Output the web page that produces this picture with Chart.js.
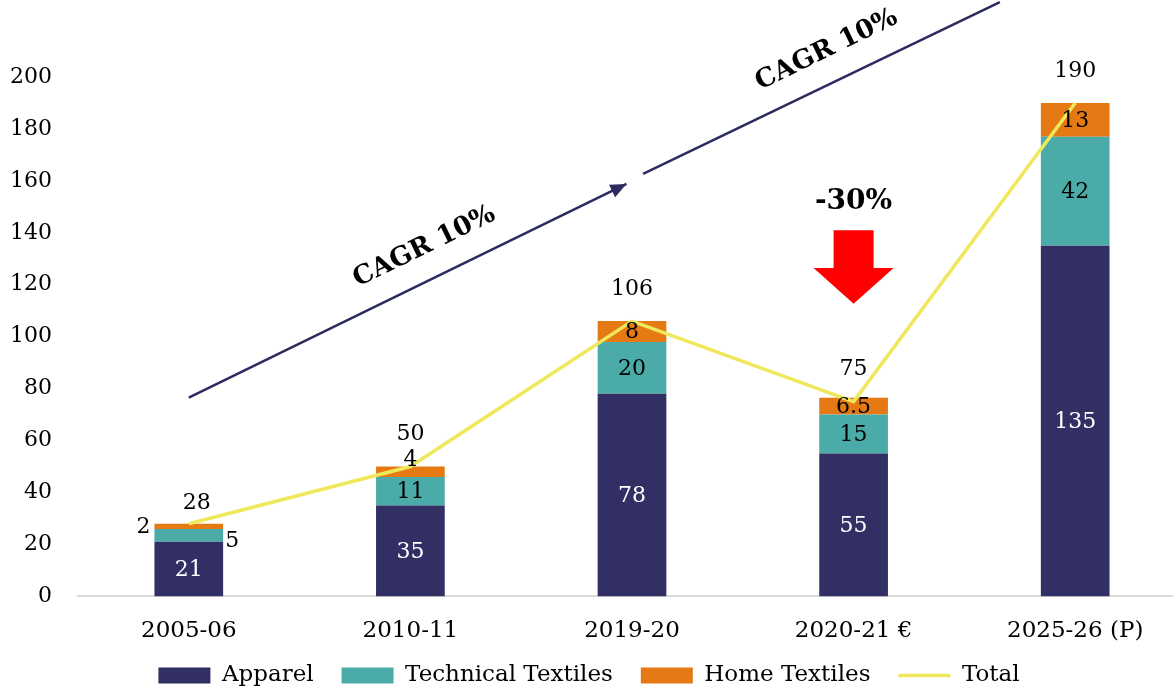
<!DOCTYPE html>
<html>
<head>
<meta charset="utf-8">
<script src="https://cdn.jsdelivr.net/npm/chart.js@4/dist/chart.umd.min.js"></script>
<style>
    html, body { margin: 0; padding: 0; background: #fff; overflow: hidden; }
    #wrap { width: 1190px; height: 691px; }
</style>
</head>
<body>
<div id="wrap"><canvas id="chart"></canvas></div>
<script>
var years = ['2005-06', '2010-11', '2019-20', '2020-21 €', '2025-26 (P)'];
var apparel = [21, 35, 78, 55, 135];
var technical = [5, 11, 20, 15, 42];
var home = [2, 4, 8, 6.5, 13];
var total = [28, 50, 106, 75, 190];

var FONT = "'DejaVu Serif', serif";
var NAVY = '#312F63';
var TEAL = '#4BABA8';
var ORANGE = '#E57A14';
var YELLOW = '#EFE85A';

var labelsPlugin = { // scrive i valori sopra/dentro le barre e sulla linea
    id: 'valueLabels',
    afterDatasetsDraw: function (chart) {
        var ctx = chart.ctx;
        ctx.save();
        ctx.font = '22px ' + FONT;
        ctx.textBaseline = 'middle';
        chart.data.datasets.forEach(function (ds, di) {
            var meta = chart.getDatasetMeta(di);
            meta.data.forEach(function (el, i) {
                var txt = String(ds.data[i]);
                var x = el.x, y, align = 'center';
                ctx.fillStyle = '#000';
                if (di === 3) { // totale
                    y = el.y - 33;
                    if (i === 0) { y = el.y - 21; x += 8; }
                } else {
                    y = (el.y + el.base) / 2;
                    if (di === 0) ctx.fillStyle = '#fff';
                    if (di === 1 && i === 0) { x = el.x + el.width / 2 + 2; align = 'left'; y += 5; }
                    if (di === 2 && i === 0) { x = el.x - el.width / 2 - 4; align = 'right'; }
                    if (di === 2 && i === 1) { y = el.y - 7; }
                }
                ctx.textAlign = align;
                ctx.fillText(txt, x, y + 1);
            });
        });
        ctx.restore();
    }
};

var notesPlugin = { // frecce CAGR e freccia rossa -30%
    id: 'notes',
    afterDraw: function (chart) {
        var ctx = chart.ctx;
        var xs = chart.scales.x, ys = chart.scales.y;
        var x0 = xs.getPixelForValue(0);
        var step = xs.getPixelForValue(1) - x0;
        function px(i) { return x0 + i * step; }
        function py(v) { return ys.getPixelForValue(v); }
        ctx.save();

        // linee CAGR
        ctx.strokeStyle = '#2B2B5E';
        ctx.fillStyle = '#2B2B5E';
        ctx.lineWidth = 2.5;
        var ax1 = px(0), ay1 = py(76.5), ax2 = px(1.975), ay2 = py(158.8);
        ctx.beginPath();
        ctx.moveTo(ax1, ay1);
        ctx.lineTo(ax2, ay2);
        ctx.stroke();
        var ang = Math.atan2(ay2 - ay1, ax2 - ax1);
        ctx.beginPath();
        ctx.moveTo(ax2, ay2);
        ctx.lineTo(ax2 - 16 * Math.cos(ang) + 7 * Math.sin(ang), ay2 - 16 * Math.sin(ang) - 7 * Math.cos(ang));
        ctx.lineTo(ax2 - 16 * Math.cos(ang) - 7 * Math.sin(ang), ay2 - 16 * Math.sin(ang) + 7 * Math.cos(ang));
        ctx.closePath();
        ctx.fill();

        ctx.beginPath();
        ctx.moveTo(px(2.05), py(162.7));
        ctx.lineTo(px(3.66), py(228.8));
        ctx.stroke();

        ctx.fillStyle = '#000';
        ctx.font = 'bold 26px ' + FONT;
        ctx.textAlign = 'center';
        ctx.textBaseline = 'middle';
        [[1.063, 134.6], [2.878, 210.4]].forEach(function (p) {
            ctx.save();
            ctx.translate(px(p[0]), py(p[1]));
            ctx.rotate(ang);
            ctx.fillText('CAGR 10%', 0, 0);
            ctx.restore();
        });

        // freccia rossa
        var cx = px(3);
        ctx.fillStyle = '#FF0000';
        ctx.beginPath();
        ctx.moveTo(cx - 20, py(141));
        ctx.lineTo(cx + 20, py(141));
        ctx.lineTo(cx + 20, py(126.5));
        ctx.lineTo(cx + 40, py(126.5));
        ctx.lineTo(cx, py(112.7));
        ctx.lineTo(cx - 40, py(126.5));
        ctx.lineTo(cx - 20, py(126.5));
        ctx.closePath();
        ctx.fill();

        ctx.fillStyle = '#000';
        ctx.font = 'bold 28px ' + FONT;
        ctx.fillText('-30%', cx, py(152));
        ctx.restore();
    }
};

function legendLabels(chart) { // legenda standard con un po' di spazio dopo le prime voci
    var items = Chart.defaults.plugins.legend.labels.generateLabels(chart);
    items.sort(function (a, b) { return a.datasetIndex - b.datasetIndex; });
    items.forEach(function (it) {
        if (it.datasetIndex < 3) it.text = it.text + '   ';
    });
    return items;
}

new Chart(document.getElementById('chart'), {
    type: 'bar',
    data: {
        labels: years,
        datasets: [
            { label: 'Apparel', data: apparel, backgroundColor: NAVY, stack: 's', order: 1, pointStyle: 'rect', borderWidth: 0 },
            { label: 'Technical Textiles', data: technical, backgroundColor: TEAL, stack: 's', order: 1, pointStyle: 'rect', borderWidth: 0 },
            { label: 'Home Textiles', data: home, backgroundColor: ORANGE, stack: 's', order: 1, pointStyle: 'rect', borderWidth: 0 },
            { type: 'line', label: 'Total', data: total, borderColor: YELLOW, backgroundColor: YELLOW, borderWidth: 3.5,
              pointRadius: 0, pointStyle: 'line', tension: 0, stack: 'tot', order: 0 }
        ]
    },
    options: {
        responsive: true,
        maintainAspectRatio: false,
        animation: false,
        datasets: { bar: { barPercentage: 0.31, categoryPercentage: 1 } },
        layout: { padding: { top: 77, left: -8, right: 4, bottom: -6 } },
        plugins: {
            tooltip: { enabled: false },
            legend: {
                position: 'bottom',
                labels: {
                    color: '#000',
                    font: { family: FONT, size: 23 },
                    usePointStyle: true,
                    pointStyleWidth: 52,
                    boxHeight: 16,
                    padding: 6,
                    generateLabels: legendLabels
                }
            }
        },
        scales: {
            x: {
                stacked: true,
                grid: { display: false },
                border: { color: '#D9D9D9', width: 2 },
                ticks: { color: '#000', font: { family: FONT, size: 23 }, padding: 13 }
            },
            y: {
                stacked: true,
                min: 0,
                max: 200,
                grid: { display: false },
                border: { display: false },
                ticks: { stepSize: 20, color: '#000', font: { family: FONT, size: 22 }, padding: 18 }
            }
        }
    },
    plugins: [labelsPlugin, notesPlugin]
});
</script>
</body>
</html>
